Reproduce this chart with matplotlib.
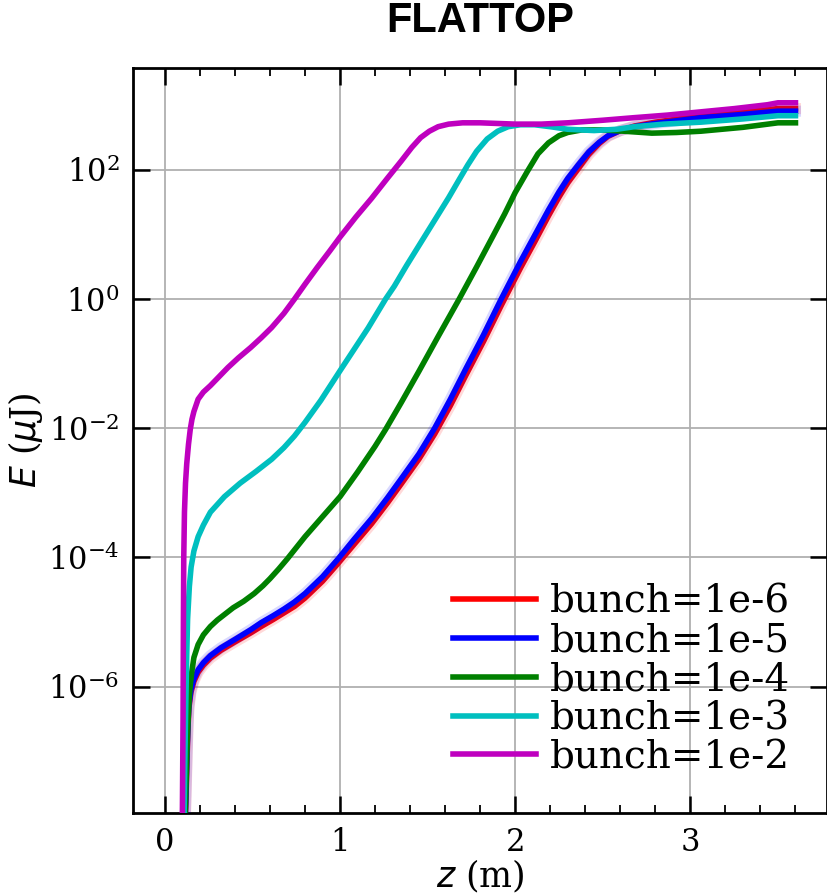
import numpy as np
import matplotlib
matplotlib.use("Agg")
import matplotlib.pyplot as plt
from matplotlib.ticker import MultipleLocator, FixedLocator, NullLocator, LogFormatterSciNotation

plt.rcParams["font.family"] = ["DejaVu Serif"]
plt.rcParams["mathtext.fontset"] = "dejavusans"

# Pulse energy along the undulator, one run per bunching factor.
# Energies are kept as decade exponents: E (uJ) = 10**logE.
z_red = [0.0, 0.10, 0.12, 0.126, 0.131, 0.137, 0.149, 0.166, 0.19, 0.22, 0.26, 0.32, 0.40,
         0.49, 0.55, 0.62, 0.68, 0.74, 0.80, 0.90, 0.99, 1.08, 1.18, 1.27, 1.35, 1.45, 1.54,
         1.63, 1.72, 1.82, 1.92, 2.03, 2.11, 2.19, 2.25, 2.30, 2.36, 2.42, 2.48, 2.53,
         2.60, 2.68, 2.80, 3.06, 3.30, 3.50, 3.60]
logE_red = [-12.0, -9.5, -7.8, -7.2, -6.72, -6.34, -6.09, -5.92, -5.78, -5.67, -5.56, -5.44,
            -5.31, -5.17, -5.07, -4.96, -4.86, -4.76, -4.63, -4.37, -4.09, -3.80, -3.48,
            -3.16, -2.86, -2.48, -2.09, -1.65, -1.17, -0.65, -0.10, 0.48, 0.88, 1.29, 1.58,
            1.80, 2.02, 2.24, 2.41, 2.52, 2.61, 2.68, 2.74, 2.84, 2.90, 2.95, 2.95]

z_blue = [0.0, 0.10, 0.12, 0.126, 0.131, 0.137, 0.149, 0.166, 0.19, 0.22, 0.26, 0.32, 0.40,
          0.49, 0.55, 0.62, 0.68, 0.74, 0.80, 0.90, 0.99, 1.08, 1.18, 1.27, 1.35, 1.45,
          1.54, 1.63, 1.72, 1.82, 1.92, 2.03, 2.11, 2.19, 2.25, 2.30, 2.36, 2.42, 2.48,
          2.53, 2.60, 2.68, 2.80, 3.06, 3.30, 3.50, 3.60]
logE_blue = [-12.0, -9.5, -7.7, -7.1, -6.65, -6.30, -6.05, -5.88, -5.74, -5.63, -5.52, -5.40,
             -5.27, -5.12, -5.01, -4.90, -4.80, -4.69, -4.56, -4.30, -4.02, -3.72, -3.40,
             -3.08, -2.78, -2.40, -2.00, -1.55, -1.07, -0.55, 0.00, 0.58, 0.98, 1.38, 1.66,
             1.87, 2.08, 2.28, 2.43, 2.53, 2.61, 2.67, 2.72, 2.81, 2.86, 2.91, 2.91]

z_green = [0.0, 0.10, 0.118, 0.125, 0.130, 0.135, 0.140, 0.145, 0.155, 0.166, 0.19, 0.22,
           0.26, 0.30, 0.39, 0.45, 0.51, 0.56, 0.60, 0.65, 0.70, 0.80, 0.90, 1.00, 1.10,
           1.20, 1.26, 1.35, 1.45, 1.56, 1.68, 1.78, 1.87, 1.94, 2.00, 2.07, 2.13, 2.19,
           2.25, 2.30, 2.38, 2.49, 2.62, 2.78, 2.92, 3.06, 3.30, 3.50, 3.60]
logE_green = [-12.0, -9.5, -7.8, -7.1, -6.70, -6.40, -6.15, -5.98, -5.75, -5.55, -5.35, -5.20,
              -5.07, -4.97, -4.78, -4.68, -4.56, -4.44, -4.33, -4.18, -4.02, -3.68, -3.37,
              -3.06, -2.68, -2.28, -2.02, -1.60, -1.12, -0.58, 0.00, 0.50, 0.96, 1.32, 1.65,
              1.98, 2.25, 2.42, 2.53, 2.58, 2.62, 2.62, 2.60, 2.57, 2.58, 2.60, 2.66, 2.73,
              2.73]

z_cyan = [0.0, 0.10, 0.11, 0.115, 0.12, 0.125, 0.13, 0.14, 0.15, 0.166, 0.19, 0.22, 0.26,
          0.34, 0.43, 0.52, 0.61, 0.68, 0.74, 0.80, 0.89, 1.00, 1.08, 1.16, 1.26, 1.31,
          1.38, 1.46, 1.54, 1.62, 1.68, 1.73, 1.78, 1.84, 1.90, 1.96, 2.03, 2.11, 2.20,
          2.30, 2.45, 2.58, 2.68, 2.85, 3.06, 3.30, 3.50, 3.60]
logE_cyan = [-12.0, -9.5, -8.0, -7.0, -6.2, -5.5, -4.95, -4.45, -4.15, -3.90, -3.68, -3.50,
             -3.30, -3.06, -2.85, -2.67, -2.48, -2.30, -2.12, -1.91, -1.57, -1.11, -0.78,
             -0.45, 0.00, 0.20, 0.52, 0.87, 1.22, 1.57, 1.85, 2.08, 2.29, 2.48, 2.60, 2.67,
             2.70, 2.70, 2.67, 2.63, 2.61, 2.63, 2.67, 2.71, 2.74, 2.79, 2.84, 2.84]

z_mag = [0.0, 0.09, 0.100, 0.104, 0.106, 0.108, 0.112, 0.118, 0.125, 0.135, 0.145, 0.155,
         0.166, 0.19, 0.22, 0.26, 0.31, 0.36, 0.42, 0.49, 0.55, 0.61, 0.68, 0.74, 0.80,
         0.87, 0.94, 1.00, 1.09, 1.18, 1.27, 1.35, 1.41, 1.46, 1.51, 1.56, 1.62, 1.70,
         1.80, 1.90, 2.00, 2.15, 2.30, 2.50, 2.68, 2.87, 3.06, 3.25, 3.44, 3.50, 3.60]
logE_mag = [-12.0, -9.5, -8.0, -6.5, -5.0, -4.0, -3.3, -2.85, -2.55, -2.25, -2.02, -1.86,
            -1.74, -1.55, -1.44, -1.34, -1.20, -1.06, -0.91, -0.75, -0.60, -0.44, -0.22,
            0.00, 0.23, 0.49, 0.74, 0.96, 1.27, 1.56, 1.87, 2.14, 2.35, 2.50, 2.60, 2.67,
            2.71, 2.73, 2.73, 2.72, 2.71, 2.71, 2.73, 2.77, 2.81, 2.85, 2.90, 2.95, 3.01,
            3.04, 3.04]

series = [
    (z_red, logE_red, "r", "bunch=1e-6"),
    (z_blue, logE_blue, "b", "bunch=1e-5"),
    (z_green, logE_green, "g", "bunch=1e-4"),
    (z_cyan, logE_cyan, "c", "bunch=1e-3"),
    (z_mag, logE_mag, "m", "bunch=1e-2"),
]

fig = plt.figure(figsize=(8.28, 8.94), dpi=100)
ax = fig.add_axes([0.161, 0.0906, 0.8378, 0.8334])

for i, (z, logE, c, lab) in enumerate(series):
    E = 10.0 ** np.asarray(logE)
    if c in ("r", "b"):
        # faint spread around the two lowest-bunching runs
        ax.plot(z, E, color=c, lw=8, alpha=0.15, zorder=2 + i)
    ax.plot(z, E, color=c, lw=4, label=lab, zorder=2 + i,
            solid_joinstyle="round")

ax.set_yscale("log")
ax.set_ylim(1.1e-8, 3.8e3)
ax.set_xlim(-0.18, 3.78)

ax.xaxis.set_major_locator(MultipleLocator(1))
ax.xaxis.set_minor_locator(MultipleLocator(0.2))
ax.yaxis.set_major_locator(FixedLocator([1e-6, 1e-4, 1e-2, 1e0, 1e2]))
ax.yaxis.set_major_formatter(LogFormatterSciNotation())
ax.yaxis.set_minor_locator(NullLocator())

ax.grid(True, which="major", color="#b0b0b0", lw=1.3, zorder=0)
ax.tick_params(which="both", direction="in", top=True, right=True, labelsize=22, pad=10)
ax.tick_params(which="major", length=12, width=1.8)
ax.tick_params(which="minor", length=6, width=1.3)
for s in ax.spines.values():
    s.set_linewidth(2)

ax.set_xlabel("$z$ (m)", fontsize=25, labelpad=0)
ax.set_ylabel("$E$ ($\\mu$J)", fontsize=25, labelpad=2)
ax.set_title("FLATTOP", fontsize=30, fontweight="bold", family="Liberation Sans", pad=26)

ax.legend(loc="lower right", frameon=False, fontsize=28, handlelength=2.15,
          labelspacing=0.05, handletextpad=0.35, borderaxespad=0.55)

fig.savefig("out.png", dpi=100)
